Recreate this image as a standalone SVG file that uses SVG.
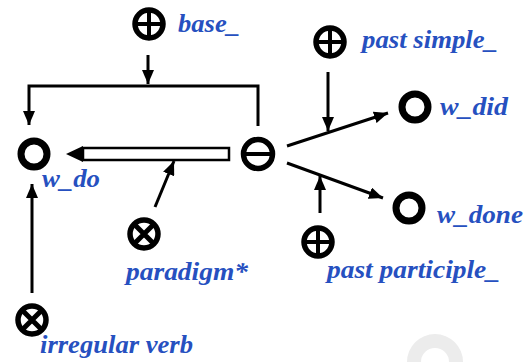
<svg xmlns="http://www.w3.org/2000/svg" width="529" height="362" viewBox="0 0 529 362">
<defs>
<style>
.lbl{font-family:"Liberation Serif","DejaVu Serif",serif;font-style:italic;font-weight:bold;font-size:25px;fill:#2650c0}
.ring{fill:none;stroke:#000;stroke-width:7}
.thin{fill:none;stroke:#000;stroke-width:5.5}
.bar{stroke:#000;stroke-width:4;fill:none}
.xbar{stroke:#000;stroke-width:5;fill:none}
.edge{fill:none;stroke:#000;stroke-width:3}
</style>
<marker id="ah" viewBox="0 0 14 12" refX="14" refY="6" markerWidth="14" markerHeight="12" markerUnits="userSpaceOnUse" orient="auto">
<path d="M0,0 L14,6 L0,12 Z" fill="#000"/>
</marker>
</defs>
<rect width="529" height="362" fill="#fff"/>
<path d="M407,362 A28,28 0 0 1 463,362 L449,362 A14,14 0 0 0 421,362 Z" fill="#ececec"/>
<g id="connectors">
<path class="edge" d="M258,126 V86 H29 V125" marker-end="url(#ah)"/>
<path class="edge" d="M148,55 V84" marker-end="url(#ah)"/>
<path d="M229,148 H83 V160 H229 Z" fill="#fff" stroke="#000" stroke-width="2.5"/>
<path d="M83,146 L66,154 L83,162 Z" fill="#000"/>
<path class="edge" d="M155,207 L174,161" marker-end="url(#ah)"/>
<path class="edge" d="M32,293 V184" marker-end="url(#ah)"/>
<path class="edge" d="M287,146 L388,113" marker-end="url(#ah)"/>
<path class="edge" d="M287,163 L383,198" marker-end="url(#ah)"/>
<path class="edge" d="M328,72 V131" marker-end="url(#ah)"/>
<path class="edge" d="M320,213 V176" marker-end="url(#ah)"/>
</g>
<g id="n-base">
<circle class="thin" cx="149" cy="24" r="14"/>
<path class="bar" d="M135,24 H163 M149,10 V38"/>
<text class="lbl" x="178" y="32" textLength="62" lengthAdjust="spacingAndGlyphs">base_</text>
</g>
<g id="n-pastsimple">
<circle class="thin" cx="330" cy="42" r="14"/>
<path class="bar" d="M316,42 H344 M330,28 V56"/>
<text class="lbl" x="362" y="48" textLength="136" lengthAdjust="spacingAndGlyphs">past simple_</text>
</g>
<g id="n-wdid">
<circle class="ring" cx="415" cy="107" r="13"/>
<text class="lbl" x="440" y="115" textLength="68" lengthAdjust="spacingAndGlyphs">w_did</text>
</g>
<g id="n-minus">
<circle class="thin" cx="258" cy="154" r="14.5"/>
<path class="bar" d="M244,154 H272"/>
</g>
<g id="n-wdo">
<circle class="ring" cx="34" cy="154" r="13"/>
<text class="lbl" x="42" y="187" textLength="58" lengthAdjust="spacingAndGlyphs">w_do</text>
</g>
<g id="n-wdone">
<circle class="ring" cx="409" cy="208" r="13"/>
<text class="lbl" x="437" y="223" textLength="86" lengthAdjust="spacingAndGlyphs">w_done</text>
</g>
<g id="n-pastpart">
<circle class="thin" cx="318" cy="242" r="14"/>
<path class="bar" d="M304,242 H332 M318,228 V256"/>
<text class="lbl" x="327" y="278" textLength="173" lengthAdjust="spacingAndGlyphs">past participle_</text>
</g>
<g id="n-paradigm">
<circle class="thin" cx="144" cy="234" r="14"/>
<path class="xbar" d="M134,224 L154,244 M154,224 L134,244"/>
<text class="lbl" x="126" y="280" textLength="122" lengthAdjust="spacingAndGlyphs">paradigm*</text>
</g>
<g id="n-irregular">
<circle class="thin" cx="32" cy="320" r="14"/>
<path class="xbar" d="M22,310 L42,330 M42,310 L22,330"/>
<text class="lbl" x="40" y="353" textLength="153" lengthAdjust="spacingAndGlyphs">irregular verb</text>
</g>
</svg>
